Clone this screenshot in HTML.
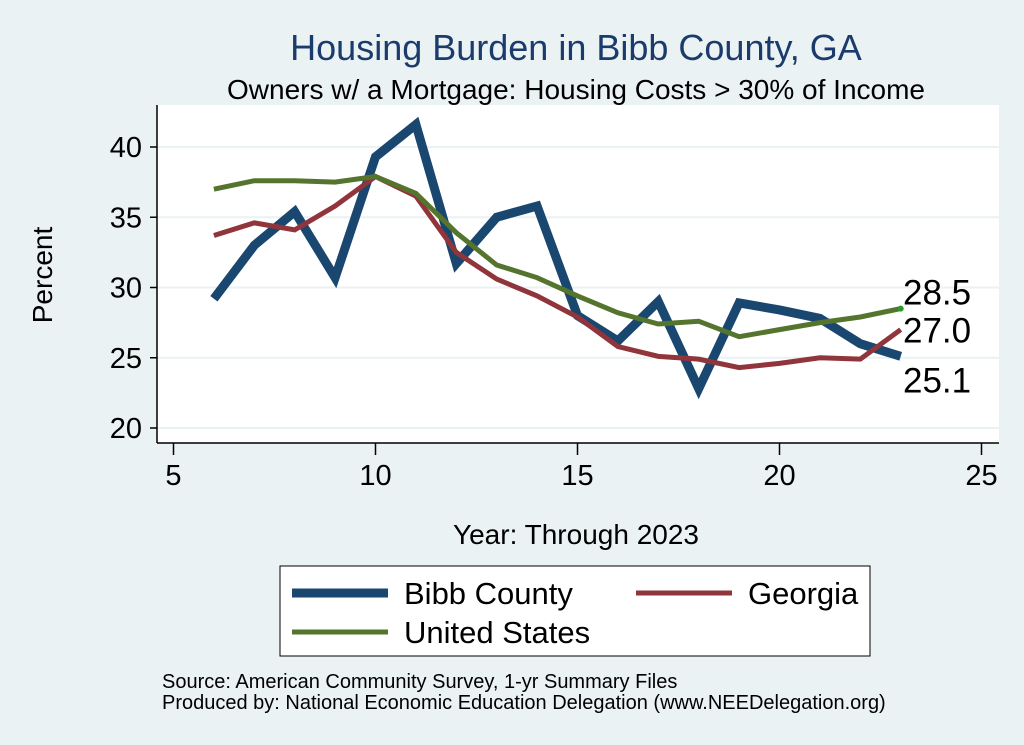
<!DOCTYPE html>
<html><head><meta charset="utf-8"><style>
body{margin:0;background:#eaf2f3;font-family:"Liberation Sans",sans-serif}
svg{display:block}
</style></head><body>
<svg width="1024" height="745" xmlns="http://www.w3.org/2000/svg">
<rect width="1024" height="745" fill="#eaf2f3"/>
<text x="576" y="60" font-size="36" fill="#1a3b6b" text-anchor="middle">Housing Burden in Bibb County, GA</text>
<text x="576" y="99" font-size="28" fill="#000" text-anchor="middle">Owners w/ a Mortgage: Housing Costs &gt; 30% of Income</text>
<rect x="157" y="105" width="842" height="338" fill="#fff"/>
<g id="grid"></g>
<line x1="157" y1="105" x2="157" y2="443" stroke="#000" stroke-width="1.5"/>
<line x1="157" y1="443" x2="999" y2="443" stroke="#000" stroke-width="1.5"/>
<g id="ticks"></g>
<g id="series"></g>
<text x="52" y="275" font-size="28" text-anchor="middle" transform="rotate(-90 52 275)">Percent</text>
<text x="576" y="544" font-size="28" text-anchor="middle">Year: Through 2023</text>
<g>
<rect x="280" y="566" width="590" height="90" fill="#fff" stroke="#000" stroke-width="1"/>
<line x1="292" y1="593" x2="388" y2="593" stroke="#1a476f" stroke-width="9"/>
<text x="404" y="604" font-size="31">Bibb County</text>
<line x1="636" y1="593" x2="732" y2="593" stroke="#90353b" stroke-width="5"/>
<text x="748" y="604" font-size="31">Georgia</text>
<line x1="292" y1="632" x2="388" y2="632" stroke="#55752f" stroke-width="5"/>
<text x="404" y="643" font-size="31">United States</text>
</g>
<text x="162" y="688" font-size="20">Source: American Community Survey, 1-yr Summary Files</text>
<text x="162" y="709" font-size="20">Produced by: National Economic Education Delegation (www.NEEDelegation.org)</text>
</svg>
<script>
const years=[6,7,8,9,10,11,12,13,14,15,16,17,18,19,20,21,22,23];
const bibb=[29.2,33.0,35.4,30.7,39.3,41.6,31.7,35.0,35.8,28.0,26.2,29.0,22.8,28.9,28.4,27.8,26.0,25.1];
const georgia=[33.7,34.6,34.1,35.8,37.9,36.5,32.5,30.6,29.4,27.9,25.8,25.1,24.9,24.3,24.6,25.0,24.9,27.0];
const us=[37.0,37.6,37.6,37.5,37.9,36.7,33.9,31.6,30.7,29.4,28.2,27.4,27.6,26.5,27.0,27.5,27.9,28.5];
const xTicks=[5,10,15,20,25];
const yTicks=[20,25,30,35,40];
const NS="http://www.w3.org/2000/svg";
function X(v){return 173.5+(v-5)*40.4;}
function Y(v){return 428-(v-20)*14.05;}
function mk(t,a,p){const e=document.createElementNS(NS,t);for(const k in a)e.setAttribute(k,a[k]);p.appendChild(e);return e;}
const grid=document.getElementById('grid'),ticks=document.getElementById('ticks'),ser=document.getElementById('series');
yTicks.forEach(v=>{
 const g=mk('line',{x1:157,x2:999,y1:Y(v),y2:Y(v),stroke:'#eaf2f3','stroke-width':2},grid);
 
 
 const t=mk('line',{x1:150,x2:157,y1:Y(v),y2:Y(v),stroke:'#000','stroke-width':1.5},ticks);
 
 
 const l=mk('text',{x:142,y:Y(v)+10,'font-size':29,'text-anchor':'end'},ticks);l.textContent=v;
 
 
});
xTicks.forEach(v=>{
 const t=mk('line',{x1:X(v),x2:X(v),y1:443,y2:455,stroke:'#000','stroke-width':1.5},ticks);
 
 
 const l=mk('text',{x:X(v),y:485,'font-size':29,'text-anchor':'middle'},ticks);l.textContent=v;
 
 
});
function line(vals,color,w,name){
 const d=vals.map((v,i)=>(i?'L':'M')+X(years[i])+','+Y(v)).join(' ');
 const p=mk('path',{d:d,fill:'none',stroke:color,'stroke-width':w,'stroke-linejoin':'miter'},ser);
 
 
}
line(bibb,'#1a476f',9,'bibb-county-line');
line(georgia,'#90353b',5,'georgia-line');
line(us,'#55752f',5,'us-line');
const n=years.length-1;
const dot=mk('circle',{cx:X(years[n]),cy:Y(us[n]),r:3,fill:'#2a9a2a'},ser);


[[us[n],-4,'us'],[georgia[n],13,'georgia'],[bibb[n],36,'bibb']].forEach(([v,dy,nm])=>{
 const t=mk('text',{x:903,y:Y(v)+dy,'font-size':35},ser);t.textContent=v.toFixed(1);
 
 
});
</script>
</body></html>
